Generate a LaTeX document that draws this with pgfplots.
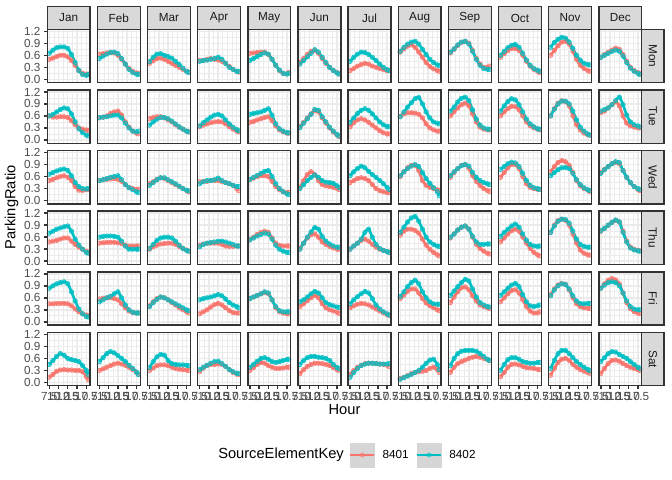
\documentclass[border=0pt]{standalone}
\usepackage{fontspec}
\setmainfont{Liberation Sans}
\usepackage{pgfplots}
\usepackage{pgfplotstable}
\pgfplotsset{compat=1.18}
\definecolor{c8401}{HTML}{F8766D}
\definecolor{c8402}{HTML}{00BFC4}
\definecolor{grey92}{HTML}{EBEBEB}
\definecolor{grey85}{HTML}{D9D9D9}
\definecolor{grey20}{HTML}{333333}
\definecolor{grey30}{HTML}{4D4D4D}
\definecolor{grey10}{HTML}{1A1A1A}
\definecolor{keygrey}{HTML}{D6D6D6}
\newcommand\tickfont{\fontsize{8.8bp}{10bp}\selectfont}
\newcommand\titlefont{\fontsize{11bp}{13bp}\selectfont}

\pgfplotstableread{
name c1 c2 c3 c4 c5 c6 c7 c8 c9 c10 c11 c12
h 7.5 8.5 9.5 10.5 11.5 12.5 13.5 14.5 15.5 16.5 17.5 18
MonJanA 0.50 0.53 0.57 0.60 0.60 0.56 0.47 0.35 0.22 0.15 0.13 0.13
MonJanB 0.65 0.73 0.79 0.81 0.81 0.77 0.62 0.42 0.22 0.12 0.10 0.12
MonFebA 0.63 0.64 0.66 0.67 0.66 0.60 0.50 0.38 0.27 0.20 0.16 0.15
MonFebB 0.52 0.58 0.63 0.67 0.68 0.64 0.52 0.38 0.25 0.17 0.13 0.12
MonMarA 0.40 0.46 0.52 0.53 0.50 0.45 0.40 0.35 0.30 0.25 0.20 0.18
MonMarB 0.44 0.55 0.63 0.64 0.60 0.57 0.53 0.45 0.37 0.28 0.20 0.17
MonAprA 0.47 0.47 0.50 0.52 0.50 0.48 0.45 0.40 0.32 0.25 0.20 0.18
MonAprB 0.45 0.47 0.48 0.50 0.52 0.55 0.50 0.40 0.30 0.25 0.20 0.20
MonMayA 0.65 0.66 0.67 0.68 0.68 0.62 0.50 0.35 0.22 0.15 0.14 0.17
MonMayB 0.47 0.52 0.57 0.62 0.66 0.63 0.50 0.35 0.23 0.15 0.13 0.15
MonJunA 0.42 0.52 0.62 0.70 0.72 0.65 0.52 0.40 0.30 0.22 0.17 0.14
MonJunB 0.38 0.47 0.56 0.65 0.74 0.68 0.55 0.42 0.30 0.22 0.16 0.13
MonJulA 0.22 0.27 0.33 0.37 0.40 0.38 0.33 0.30 0.27 0.24 0.21 0.22
MonJulB 0.45 0.55 0.63 0.68 0.67 0.62 0.55 0.47 0.38 0.30 0.24 0.22
MonAugA 0.68 0.76 0.83 0.86 0.80 0.68 0.55 0.42 0.32 0.26 0.22 0.20
MonAugB 0.70 0.80 0.88 0.93 0.95 0.88 0.75 0.62 0.50 0.42 0.36 0.34
MonSepA 0.66 0.75 0.85 0.92 0.95 0.90 0.72 0.52 0.38 0.30 0.30 0.33
MonSepB 0.68 0.76 0.86 0.93 0.95 0.88 0.70 0.50 0.35 0.27 0.25 0.25
MonOctA 0.55 0.64 0.72 0.77 0.77 0.72 0.60 0.45 0.33 0.25 0.20 0.17
MonOctB 0.60 0.70 0.79 0.85 0.87 0.80 0.65 0.48 0.35 0.27 0.23 0.20
MonNovA 0.60 0.72 0.84 0.93 0.95 0.88 0.70 0.50 0.35 0.27 0.22 0.20
MonNovB 0.80 0.92 1.00 1.05 1.03 0.93 0.77 0.60 0.48 0.40 0.37 0.36
MonDecA 0.55 0.62 0.68 0.73 0.78 0.75 0.62 0.45 0.30 0.22 0.17 0.15
MonDecB 0.55 0.60 0.65 0.70 0.73 0.70 0.58 0.42 0.28 0.20 0.15 0.12
TueJanA 0.60 0.57 0.57 0.58 0.58 0.56 0.48 0.38 0.30 0.27 0.25 0.23
TueJanB 0.60 0.64 0.70 0.76 0.80 0.78 0.65 0.45 0.28 0.18 0.12 0.10
TueFebA 0.55 0.57 0.60 0.66 0.70 0.72 0.62 0.45 0.32 0.22 0.17 0.15
TueFebB 0.56 0.57 0.58 0.60 0.62 0.62 0.55 0.42 0.30 0.22 0.20 0.22
TueMarA 0.53 0.56 0.58 0.58 0.55 0.50 0.45 0.38 0.32 0.27 0.22 0.20
TueMarB 0.37 0.45 0.52 0.56 0.56 0.53 0.47 0.40 0.33 0.27 0.22 0.20
TueAprA 0.33 0.37 0.40 0.43 0.45 0.46 0.45 0.40 0.33 0.27 0.22 0.20
TueAprB 0.35 0.43 0.50 0.57 0.62 0.64 0.60 0.50 0.40 0.32 0.26 0.23
TueMayA 0.44 0.46 0.50 0.53 0.56 0.58 0.48 0.35 0.25 0.20 0.17 0.17
TueMayB 0.64 0.66 0.68 0.70 0.74 0.78 0.62 0.40 0.28 0.22 0.18 0.18
TueJunA 0.33 0.44 0.55 0.65 0.73 0.70 0.55 0.42 0.30 0.20 0.12 0.09
TueJunB 0.31 0.42 0.53 0.64 0.76 0.74 0.58 0.45 0.32 0.22 0.14 0.10
TueJulA 0.33 0.43 0.50 0.53 0.50 0.44 0.37 0.30 0.23 0.18 0.15 0.15
TueJulB 0.44 0.55 0.66 0.74 0.78 0.74 0.65 0.55 0.45 0.38 0.33 0.33
TueAugA 0.59 0.65 0.68 0.68 0.67 0.64 0.55 0.40 0.30 0.25 0.22 0.22
TueAugB 0.58 0.70 0.82 0.93 1.03 1.06 0.90 0.70 0.55 0.45 0.42 0.40
TueSepA 0.60 0.70 0.80 0.88 0.92 0.85 0.65 0.45 0.32 0.27 0.25 0.25
TueSepB 0.72 0.82 0.95 1.04 1.07 0.98 0.75 0.52 0.37 0.30 0.27 0.27
TueOctA 0.60 0.70 0.78 0.84 0.83 0.75 0.60 0.45 0.35 0.30 0.27 0.25
TueOctB 0.72 0.85 0.96 1.03 1.00 0.88 0.70 0.52 0.40 0.33 0.28 0.27
TueNovA 0.60 0.78 0.92 0.98 0.95 0.85 0.60 0.38 0.25 0.17 0.13 0.12
TueNovB 0.60 0.77 0.90 0.97 0.97 0.90 0.72 0.50 0.32 0.22 0.15 0.12
TueDecA 0.68 0.72 0.80 0.88 0.95 0.85 0.60 0.42 0.35 0.32 0.30 0.30
TueDecB 0.72 0.76 0.80 0.88 0.98 1.07 0.88 0.62 0.45 0.38 0.35 0.33
WedJanA 0.50 0.53 0.57 0.60 0.62 0.58 0.50 0.35 0.26 0.25 0.27 0.28
WedJanB 0.66 0.70 0.74 0.77 0.79 0.75 0.62 0.45 0.35 0.30 0.29 0.30
WedFebA 0.50 0.52 0.53 0.54 0.55 0.53 0.48 0.40 0.33 0.30 0.28 0.28
WedFebB 0.50 0.52 0.55 0.58 0.60 0.62 0.52 0.40 0.32 0.27 0.22 0.20
WedMarA 0.42 0.47 0.53 0.57 0.55 0.50 0.45 0.40 0.35 0.30 0.25 0.22
WedMarB 0.38 0.45 0.52 0.57 0.57 0.52 0.47 0.42 0.36 0.30 0.26 0.24
WedAprA 0.47 0.48 0.48 0.50 0.50 0.50 0.47 0.45 0.42 0.38 0.30 0.25
WedAprB 0.42 0.47 0.50 0.50 0.52 0.56 0.50 0.45 0.42 0.38 0.35 0.35
WedMayA 0.52 0.56 0.60 0.62 0.62 0.60 0.48 0.35 0.27 0.22 0.20 0.20
WedMayB 0.53 0.58 0.63 0.68 0.73 0.75 0.60 0.42 0.30 0.22 0.17 0.15
WedJunA 0.33 0.50 0.65 0.72 0.65 0.50 0.40 0.37 0.35 0.33 0.30 0.28
WedJunB 0.30 0.40 0.50 0.58 0.64 0.58 0.50 0.46 0.45 0.43 0.37 0.33
WedJulA 0.45 0.50 0.55 0.57 0.55 0.50 0.40 0.30 0.25 0.22 0.20 0.20
WedJulB 0.62 0.72 0.80 0.86 0.82 0.73 0.65 0.58 0.50 0.42 0.33 0.28
WedAugA 0.60 0.72 0.82 0.88 0.88 0.75 0.50 0.38 0.33 0.30 0.27 0.25
WedAugB 0.62 0.72 0.80 0.86 0.90 0.85 0.70 0.55 0.43 0.32 0.22 0.12
WedSepA 0.58 0.70 0.80 0.88 0.90 0.80 0.62 0.48 0.38 0.30 0.25 0.23
WedSepB 0.62 0.72 0.80 0.87 0.90 0.86 0.70 0.58 0.50 0.45 0.42 0.40
WedOctA 0.58 0.70 0.82 0.90 0.90 0.80 0.60 0.42 0.33 0.30 0.28 0.28
WedOctB 0.78 0.85 0.92 0.96 0.94 0.85 0.68 0.50 0.38 0.32 0.30 0.28
WedNovA 0.72 0.85 0.95 1.00 0.97 0.88 0.70 0.50 0.37 0.30 0.26 0.23
WedNovB 0.62 0.70 0.77 0.82 0.83 0.80 0.68 0.52 0.40 0.32 0.27 0.25
WedDecA 0.70 0.78 0.85 0.92 0.95 0.92 0.75 0.58 0.45 0.35 0.28 0.25
WedDecB 0.68 0.77 0.85 0.92 0.97 0.95 0.75 0.58 0.45 0.35 0.30 0.28
ThuJanA 0.48 0.50 0.52 0.55 0.58 0.58 0.50 0.42 0.35 0.30 0.25 0.22
ThuJanB 0.70 0.75 0.80 0.83 0.86 0.88 0.75 0.55 0.40 0.30 0.22 0.20
ThuFebA 0.45 0.46 0.47 0.47 0.47 0.46 0.44 0.40 0.38 0.38 0.38 0.38
ThuFebB 0.60 0.62 0.63 0.63 0.62 0.60 0.50 0.38 0.30 0.30 0.30 0.30
ThuMarA 0.30 0.36 0.40 0.43 0.44 0.45 0.45 0.42 0.37 0.32 0.28 0.25
ThuMarB 0.32 0.42 0.52 0.58 0.60 0.60 0.58 0.50 0.40 0.32 0.27 0.25
ThuAprA 0.40 0.43 0.45 0.45 0.45 0.45 0.42 0.38 0.37 0.37 0.38 0.38
ThuAprB 0.36 0.42 0.45 0.47 0.48 0.50 0.50 0.48 0.45 0.42 0.38 0.38
ThuMayA 0.55 0.60 0.67 0.72 0.75 0.72 0.58 0.45 0.40 0.38 0.38 0.38
ThuMayB 0.53 0.58 0.63 0.67 0.70 0.68 0.55 0.40 0.30 0.25 0.22 0.22
ThuJunA 0.32 0.45 0.58 0.66 0.68 0.60 0.48 0.42 0.37 0.33 0.30 0.30
ThuJunB 0.30 0.45 0.60 0.73 0.84 0.80 0.62 0.50 0.43 0.38 0.35 0.35
ThuJulA 0.30 0.38 0.45 0.52 0.55 0.50 0.42 0.35 0.30 0.27 0.24 0.22
ThuJulB 0.30 0.38 0.45 0.55 0.72 0.80 0.60 0.42 0.32 0.27 0.24 0.22
ThuAugA 0.65 0.75 0.80 0.80 0.77 0.70 0.55 0.40 0.30 0.22 0.16 0.13
ThuAugB 0.72 0.85 0.98 1.08 1.12 1.00 0.80 0.60 0.48 0.42 0.38 0.37
ThuSepA 0.58 0.68 0.78 0.85 0.88 0.80 0.60 0.42 0.32 0.25 0.20 0.18
ThuSepB 0.60 0.68 0.78 0.85 0.88 0.80 0.62 0.48 0.42 0.42 0.43 0.43
ThuOctA 0.48 0.58 0.68 0.76 0.80 0.75 0.60 0.45 0.32 0.22 0.16 0.13
ThuOctB 0.62 0.72 0.80 0.88 0.93 0.85 0.68 0.52 0.42 0.38 0.37 0.38
ThuNovA 0.72 0.90 1.02 1.05 1.02 0.90 0.68 0.45 0.28 0.20 0.16 0.15
ThuNovB 0.72 0.88 1.00 1.05 1.04 0.95 0.75 0.55 0.42 0.37 0.35 0.35
ThuDecA 0.75 0.82 0.90 0.97 1.02 0.98 0.75 0.50 0.35 0.30 0.27 0.26
ThuDecB 0.76 0.82 0.90 0.97 1.03 0.98 0.72 0.48 0.33 0.28 0.26 0.25
FriJanA 0.45 0.45 0.46 0.46 0.46 0.45 0.40 0.32 0.25 0.20 0.17 0.16
FriJanB 0.84 0.90 0.95 0.98 1.00 0.95 0.75 0.52 0.32 0.20 0.13 0.12
FriFebA 0.57 0.59 0.60 0.60 0.58 0.55 0.45 0.35 0.27 0.23 0.22 0.22
FriFebB 0.50 0.55 0.60 0.64 0.70 0.75 0.60 0.42 0.30 0.24 0.22 0.22
FriMarA 0.40 0.50 0.58 0.62 0.60 0.55 0.48 0.42 0.35 0.30 0.25 0.22
FriMarB 0.38 0.48 0.56 0.62 0.60 0.55 0.50 0.45 0.40 0.35 0.30 0.28
FriAprA 0.20 0.25 0.30 0.37 0.43 0.46 0.42 0.35 0.28 0.23 0.22 0.22
FriAprB 0.55 0.58 0.60 0.62 0.65 0.68 0.65 0.57 0.48 0.42 0.38 0.35
FriMayA 0.58 0.62 0.66 0.70 0.73 0.70 0.55 0.35 0.25 0.22 0.20 0.20
FriMayB 0.58 0.62 0.66 0.70 0.75 0.72 0.55 0.38 0.28 0.25 0.25 0.25
FriJunA 0.38 0.45 0.53 0.60 0.66 0.60 0.45 0.35 0.30 0.27 0.24 0.21
FriJunB 0.50 0.55 0.62 0.70 0.76 0.72 0.60 0.48 0.43 0.40 0.37 0.36
FriJulA 0.35 0.40 0.44 0.46 0.45 0.42 0.37 0.32 0.27 0.22 0.18 0.16
FriJulB 0.45 0.55 0.63 0.70 0.76 0.72 0.58 0.42 0.32 0.25 0.20 0.17
FriAugA 0.58 0.67 0.76 0.82 0.82 0.72 0.58 0.47 0.40 0.35 0.30 0.28
FriAugB 0.63 0.75 0.88 0.98 1.04 0.95 0.75 0.60 0.50 0.45 0.44 0.44
FriSepA 0.48 0.62 0.75 0.85 0.87 0.80 0.65 0.52 0.42 0.38 0.35 0.33
FriSepB 0.66 0.77 0.88 0.98 1.06 1.02 0.82 0.62 0.48 0.42 0.38 0.37
FriOctA 0.50 0.60 0.70 0.78 0.80 0.72 0.55 0.38 0.27 0.22 0.22 0.25
FriOctB 0.66 0.75 0.84 0.92 0.96 0.88 0.68 0.50 0.40 0.38 0.40 0.42
FriNovA 0.68 0.82 0.92 0.96 0.94 0.80 0.60 0.45 0.38 0.35 0.34 0.33
FriNovB 0.65 0.80 0.90 0.95 0.93 0.82 0.65 0.52 0.46 0.45 0.46 0.46
FriDecA 0.84 0.95 1.04 1.08 1.05 0.95 0.72 0.48 0.33 0.25 0.22 0.21
FriDecB 0.84 0.92 0.98 1.00 0.98 0.90 0.72 0.52 0.38 0.32 0.30 0.30
SatJanA 0.13 0.20 0.28 0.31 0.32 0.31 0.31 0.30 0.30 0.27 0.15 0.07
SatJanB 0.45 0.55 0.65 0.72 0.68 0.60 0.57 0.55 0.52 0.42 0.30 0.20
SatFebA 0.30 0.34 0.38 0.42 0.46 0.48 0.46 0.43 0.38 0.32 0.25 0.20
SatFebB 0.52 0.62 0.72 0.77 0.74 0.67 0.60 0.52 0.43 0.35 0.26 0.20
SatMarA 0.30 0.36 0.42 0.44 0.44 0.42 0.38 0.35 0.33 0.32 0.31 0.30
SatMarB 0.37 0.52 0.64 0.70 0.68 0.55 0.47 0.45 0.44 0.44 0.43 0.42
SatAprA 0.27 0.36 0.42 0.45 0.45 0.46 0.45 0.40 0.32 0.25 0.21 0.20
SatAprB 0.32 0.38 0.43 0.48 0.52 0.53 0.47 0.40 0.32 0.27 0.23 0.22
SatMayA 0.30 0.37 0.45 0.50 0.48 0.42 0.38 0.35 0.35 0.36 0.38 0.38
SatMayB 0.38 0.45 0.53 0.60 0.62 0.58 0.52 0.50 0.52 0.55 0.57 0.58
SatJunA 0.22 0.32 0.40 0.45 0.48 0.48 0.47 0.45 0.42 0.37 0.32 0.30
SatJunB 0.45 0.55 0.62 0.65 0.65 0.63 0.62 0.60 0.55 0.45 0.37 0.35
SatJulA 0.20 0.30 0.38 0.43 0.47 0.48 0.48 0.47 0.46 0.45 0.43 0.40
SatJulB 0.13 0.25 0.35 0.42 0.46 0.48 0.48 0.47 0.46 0.46 0.46 0.47
SatAugA 0.10 0.13 0.17 0.22 0.25 0.27 0.28 0.30 0.35 0.38 0.32 0.25
SatAugB 0.08 0.12 0.16 0.20 0.25 0.30 0.38 0.48 0.56 0.58 0.45 0.32
SatSepA 0.25 0.38 0.47 0.52 0.56 0.60 0.63 0.65 0.63 0.60 0.57 0.55
SatSepB 0.42 0.60 0.72 0.78 0.80 0.80 0.80 0.78 0.72 0.65 0.58 0.55
SatOctA 0.14 0.25 0.38 0.45 0.46 0.44 0.40 0.37 0.36 0.35 0.33 0.32
SatOctB 0.30 0.45 0.57 0.62 0.62 0.58 0.52 0.50 0.48 0.48 0.50 0.50
SatNovA 0.18 0.35 0.50 0.58 0.60 0.55 0.45 0.38 0.32 0.28 0.25 0.23
SatNovB 0.35 0.55 0.72 0.80 0.80 0.72 0.62 0.52 0.45 0.38 0.33 0.30
SatDecA 0.22 0.35 0.47 0.55 0.56 0.53 0.47 0.42 0.38 0.35 0.32 0.30
SatDecB 0.52 0.62 0.72 0.77 0.76 0.70 0.65 0.60 0.52 0.45 0.38 0.35
}\rawtab
\pgfplotstabletranspose[colnames from=name]\tab{\rawtab}

\pgfplotsset{
 panel/.style={scale only axis, width=32.1bp, height=40bp,
   xmin=6.975, xmax=18.525, ymin=-0.083, ymax=1.25,
   xtick={7.5,10,12.5,15,17.5}, ytick={0,0.3,0.6,0.9,1.2},
   minor xtick={8.75,11.25,13.75,16.25}, minor ytick={0.15,0.45,0.75,1.05},
   grid=both, major grid style={grey92, line width=1.07bp},
   minor grid style={grey92, line width=0.53bp},
   axis lines*=left,
   axis line style={grey20, line width=1.07bp},
   xticklabels={}, yticklabels={},
   tick align=outside, major tick length=2.75bp, minor tick length=0pt,
   tick style={grey20, line width=1.07bp},
   xtick style={draw=none}, ytick style={draw=none},
   tick label style={font=\tickfont, text=grey30},
   xticklabel style={inner sep=0pt, yshift=-2.2bp},
   yticklabel style={inner sep=0pt, xshift=-2.2bp},
   after end axis/.code={\draw[grey20, line width=1.07bp] (rel axis cs:0,0) rectangle (rel axis cs:1,1);}},
 leftcol/.style={ytick style={draw=grey20}, yticklabels={0.0,0.3,0.6,0.9,1.2}},
 botrow/.style={xtick style={draw=grey20}, xticklabels={7.5,10.0,12.5,15.0,17.5}},
 pts/.style={only marks, mark=*, mark size=1.7bp, mark options={draw=none, fill opacity=0.5}},
 lin/.style={no marks, smooth, line width=2bp},
}

\newcommand{\panel}[4]{%
 \pgfmathsetmacro\panelX{35.475+37.605*#1}%
 \pgfmathsetmacro\panelY{360-21.975-45.47*#2}%
 \begin{axis}[panel, at={(\panelX bp,\panelY bp)}, anchor=north west, #4]
 \addplot[pts, c8401] table[x=h, y=#3A] {\tab};
 \addplot[pts, c8402] table[x=h, y=#3B] {\tab};
 \addplot[lin, c8401] table[x=h, y=#3A] {\tab};
 \addplot[lin, c8402] table[x=h, y=#3B] {\tab};
 \end{axis}}

\begin{document}
\begin{tikzpicture}
\fill[white] (0,0) rectangle (504bp,360bp);
% top strips
\foreach \m [count=\c from 0] in {Jan,Feb,Mar,Apr,May,Jun,Jul,Aug,Sep,Oct,Nov,Dec}{
  \pgfmathsetmacro\sxa{35.475+37.605*\c}
  \pgfmathsetmacro\sxb{\sxa+32.1}
  \pgfmathsetmacro\sxc{\sxa+16.05}
  \draw[grey20, fill=grey85, line width=1.07bp] (\sxa bp,355bp) rectangle (\sxb bp,338.025bp);
  \node[text=grey10, font=\tickfont, inner sep=0pt] at (\sxc bp,346.5bp) {\m};
}
% right strips
\foreach \d [count=\r from 0] in {Mon,Tue,Wed,Thu,Fri,Sat}{
  \pgfmathsetmacro\sya{338.025-45.47*\r}
  \pgfmathsetmacro\syb{\sya-40}
  \pgfmathsetmacro\syc{\sya-20}
  \draw[grey20, fill=grey85, line width=1.07bp] (481.23bp,\sya bp) rectangle (498bp,\syb bp);
  \node[text=grey10, font=\tickfont, inner sep=0pt, rotate=-90] at (489.6bp,\syc bp) {\d};
}

\panel{0}{0}{MonJan}{leftcol}
\panel{1}{0}{MonFeb}{}
\panel{2}{0}{MonMar}{}
\panel{3}{0}{MonApr}{}
\panel{4}{0}{MonMay}{}
\panel{5}{0}{MonJun}{}
\panel{6}{0}{MonJul}{}
\panel{7}{0}{MonAug}{}
\panel{8}{0}{MonSep}{}
\panel{9}{0}{MonOct}{}
\panel{10}{0}{MonNov}{}
\panel{11}{0}{MonDec}{}
\panel{0}{1}{TueJan}{leftcol}
\panel{1}{1}{TueFeb}{}
\panel{2}{1}{TueMar}{}
\panel{3}{1}{TueApr}{}
\panel{4}{1}{TueMay}{}
\panel{5}{1}{TueJun}{}
\panel{6}{1}{TueJul}{}
\panel{7}{1}{TueAug}{}
\panel{8}{1}{TueSep}{}
\panel{9}{1}{TueOct}{}
\panel{10}{1}{TueNov}{}
\panel{11}{1}{TueDec}{}
\panel{0}{2}{WedJan}{leftcol}
\panel{1}{2}{WedFeb}{}
\panel{2}{2}{WedMar}{}
\panel{3}{2}{WedApr}{}
\panel{4}{2}{WedMay}{}
\panel{5}{2}{WedJun}{}
\panel{6}{2}{WedJul}{}
\panel{7}{2}{WedAug}{}
\panel{8}{2}{WedSep}{}
\panel{9}{2}{WedOct}{}
\panel{10}{2}{WedNov}{}
\panel{11}{2}{WedDec}{}
\panel{0}{3}{ThuJan}{leftcol}
\panel{1}{3}{ThuFeb}{}
\panel{2}{3}{ThuMar}{}
\panel{3}{3}{ThuApr}{}
\panel{4}{3}{ThuMay}{}
\panel{5}{3}{ThuJun}{}
\panel{6}{3}{ThuJul}{}
\panel{7}{3}{ThuAug}{}
\panel{8}{3}{ThuSep}{}
\panel{9}{3}{ThuOct}{}
\panel{10}{3}{ThuNov}{}
\panel{11}{3}{ThuDec}{}
\panel{0}{4}{FriJan}{leftcol}
\panel{1}{4}{FriFeb}{}
\panel{2}{4}{FriMar}{}
\panel{3}{4}{FriApr}{}
\panel{4}{4}{FriMay}{}
\panel{5}{4}{FriJun}{}
\panel{6}{4}{FriJul}{}
\panel{7}{4}{FriAug}{}
\panel{8}{4}{FriSep}{}
\panel{9}{4}{FriOct}{}
\panel{10}{4}{FriNov}{}
\panel{11}{4}{FriDec}{}
\panel{0}{5}{SatJan}{leftcol,botrow}
\panel{1}{5}{SatFeb}{botrow}
\panel{2}{5}{SatMar}{botrow}
\panel{3}{5}{SatApr}{botrow}
\panel{4}{5}{SatMay}{botrow}
\panel{5}{5}{SatJun}{botrow}
\panel{6}{5}{SatJul}{botrow}
\panel{7}{5}{SatAug}{botrow}
\panel{8}{5}{SatSep}{botrow}
\panel{9}{5}{SatOct}{botrow}
\panel{10}{5}{SatNov}{botrow}
\panel{11}{5}{SatDec}{botrow}

% axis titles
\node[font=\titlefont, rotate=90] at (8.6bp,204.4bp) {ParkingRatio};
\node[font=\titlefont] at (258.4bp,52.5bp) {Hour};
% legend
\node[font=\titlefont, anchor=west, inner sep=0pt] at (163.5bp,18.75bp) {SourceElementKey};
\begin{axis}[hide axis, scale only axis, width=1bp, height=1bp,
  xmin=0, xmax=1, ymin=0, ymax=1,
  at={(261.75bp,18.75bp)}, anchor=south west,
  legend columns=2,
  legend style={at={(0,0)}, anchor=west, draw=none, fill=none,
    inner sep=0pt, outer sep=0pt, font=\tickfont, nodes={inner sep=0pt},
    /tikz/every odd column/.append style={column sep=5.25bp},
    /tikz/every even column/.append style={column sep=5.25bp}},
  legend image code/.code={
    \fill[keygrey] (0bp,-9bp) rectangle (18bp,9bp);
    \draw[#1, line width=2bp] (0bp,0bp) -- (18bp,0bp);
    \fill[#1, opacity=0.5] (9bp,0bp) circle (1.7bp);
  }]
\addlegendimage{c8401}
\addlegendentry{8401}
\addlegendimage{c8402}
\addlegendentry{8402}
\end{axis}
\end{tikzpicture}
\end{document}
